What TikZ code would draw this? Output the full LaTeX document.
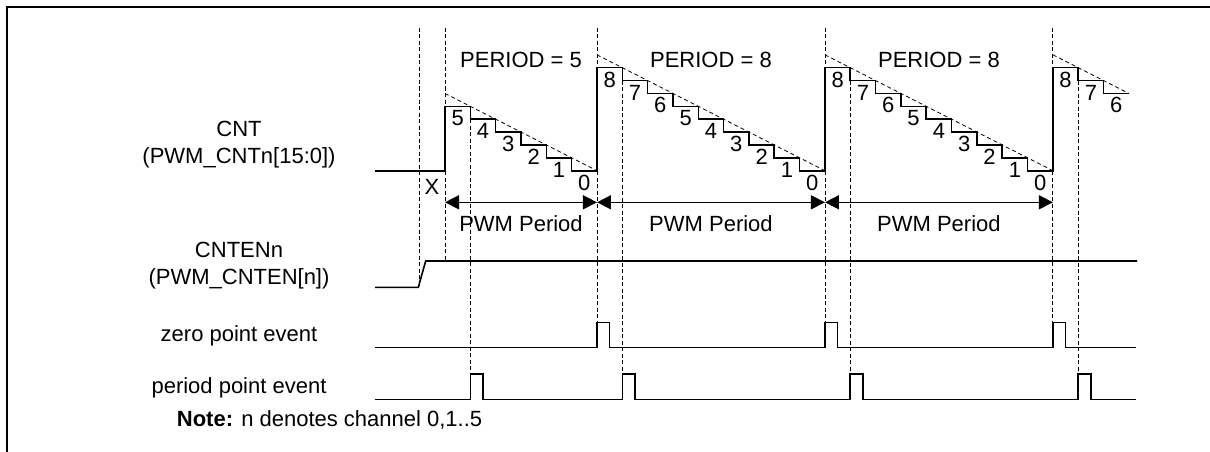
\documentclass[tikz,border=0pt]{standalone}
\usepackage{fontspec}
\setmainfont{Liberation Sans}
\usetikzlibrary{arrows.meta}
\newcommand{\sx}[1]{445+25.33*(#1)}
\newcommand{\ly}[1]{170.7-12.875*(#1)}
\tikzset{
  wave/.style={line width=1.6pt, line join=miter},
  guide/.style={line width=0.9pt, dash pattern=on 4pt off 2.5pt},
  slope/.style={line width=0.8pt, dash pattern=on 4pt off 3pt},
  txt/.style={font=\fontsize{22}{26}\selectfont, inner sep=0pt},
  lbl/.style={txt, anchor=base},
  per/.style={line width=1.5pt, {Triangle[length=14pt,width=14pt]}-{Triangle[length=14pt,width=14pt]}, shorten <=0pt, shorten >=0pt}
}
\begin{document}
\begin{tikzpicture}[x=1pt,y=-1pt]
\useasboundingbox (0,0) rectangle (1210,452);
% frame
\draw[line width=2.3pt] (7,452) -- (7,7) -- (1210,7);

% signal names
\node[lbl] (cnt) at (239,136.7) {CNT};
\node[lbl] (cntreg) at (239,163) {(PWM\_CNTn[15:0])};
\node[lbl] (en) at (239,257.3) {CNTENn};
\node[lbl] (enreg) at (239,284) {(PWM\_CNTEN[n])};
\node[lbl] (zero) at (239,341.7) {zero point event};
\node[lbl] (peri) at (239,393.3) {period point event};
\node[txt, anchor=base west] (note) at (176.7,426.7) {\textbf{Note:} n denotes channel 0,1..5};

% PERIOD labels
\node[lbl] (p1) at ({(\sx{0}+\sx{6})/2},67.7) {PERIOD = 5};
\node[lbl] (p2) at ({(\sx{6}+\sx{15})/2},67.7) {PERIOD = 8};
\node[lbl] (p3) at ({(\sx{15}+\sx{24})/2},67.7) {PERIOD = 8};

% vertical dashed guides
\draw[guide] (419.3,28) -- (419.3,287.3);
\draw[guide] ({\sx{0}},28) -- ({\sx{0}},261);
\foreach \i in {6,15,24} \draw[guide] ({\sx{\i}},28) -- ({\sx{\i}},322.3);
\draw[guide] ({\sx{1}},{\ly{4}}) -- ({\sx{1}},373.7);
\foreach \i in {7,16,25} \draw[guide] ({\sx{\i}},{\ly{7}}) -- ({\sx{\i}},373.7);

% dashed slopes
\draw[slope] ({\sx{0}},{\ly{6}}) -- ({\sx{6}},{\ly{0}});
\draw[slope] ({\sx{6}},{\ly{9}}) -- ({\sx{15}},{\ly{0}});
\draw[slope] ({\sx{15}},{\ly{9}}) -- ({\sx{24}},{\ly{0}});
\draw[slope] ({\sx{24}},{\ly{9}}) -- ({\sx{27}},{\ly{6}});

% CNT staircase
\draw[wave] (375,{\ly{0}}) -- ({\sx{0}},{\ly{0}})
  \foreach \k [count=\i from 0] in {5,4,3,2,1,0} { -- ({\sx{\i}},{\ly{\k}}) -- ({\sx{\i+1}},{\ly{\k}}) }
  \foreach \k [count=\i from 6] in {8,7,6,5,4,3,2,1,0} { -- ({\sx{\i}},{\ly{\k}}) -- ({\sx{\i+1}},{\ly{\k}}) }
  \foreach \k [count=\i from 15] in {8,7,6,5,4,3,2,1,0} { -- ({\sx{\i}},{\ly{\k}}) -- ({\sx{\i+1}},{\ly{\k}}) }
  \foreach \k [count=\i from 24] in {8,7,6} { -- ({\sx{\i}},{\ly{\k}}) -- ({\sx{\i+1}},{\ly{\k}}) };

% count values
\foreach \k [count=\i from 0] in {5,4,3,2,1,0} \node[lbl] (a\i) at ({\sx{\i+0.5}},{\ly{\k}+19.5}) {\k};
\foreach \k [count=\i from 6] in {8,7,6,5,4,3,2,1,0} \node[lbl] (b\i) at ({\sx{\i+0.5}},{\ly{\k}+19.5}) {\k};
\foreach \k [count=\i from 15] in {8,7,6,5,4,3,2,1,0} \node[lbl] (c\i) at ({\sx{\i+0.5}},{\ly{\k}+19.5}) {\k};
\foreach \k [count=\i from 24] in {8,7,6} \node[lbl] (d\i) at ({\sx{\i+0.5}},{\ly{\k}+19.5}) {\k};
\node[lbl] (xv) at (432,194.3) {X};

% PWM period arrows
\coordinate (q0) at ({\sx{0}},202.3);
\coordinate (q1) at ({\sx{6}},202.3);
\coordinate (q2) at ({\sx{15}},202.3);
\coordinate (q3) at ({\sx{24}},202.3);
\draw[per] (q0) -- (q1);
\draw[per] (q1) -- (q2);
\draw[per] (q2) -- (q3);
\node[lbl] (w1) at ({(\sx{0}+\sx{6})/2},231.7) {PWM Period};
\node[lbl] (w2) at ({(\sx{6}+\sx{15})/2},231.7) {PWM Period};
\node[lbl] (w3) at ({(\sx{15}+\sx{24})/2},231.7) {PWM Period};

% CNTEN
\draw[wave] (375,287.3) -- (418.3,287.3) -- (425.7,261) -- (1137,261);

% zero point event
\draw[wave] (375,347.3)
  \foreach \i in {6,15,24} { -- ({\sx{\i}},347.3) -- ({\sx{\i}},322.3) -- ({\sx{\i+0.5}},322.3) -- ({\sx{\i+0.5}},347.3) }
  -- (1136,347.3);

% period point event
\draw[wave] (375,399.3)
  \foreach \i in {1,7,16,25} { -- ({\sx{\i}},399.3) -- ({\sx{\i}},373.7) -- ({\sx{\i+0.5}},373.7) -- ({\sx{\i+0.5}},399.3) }
  -- (1136,399.3);
\end{tikzpicture}
\end{document}
